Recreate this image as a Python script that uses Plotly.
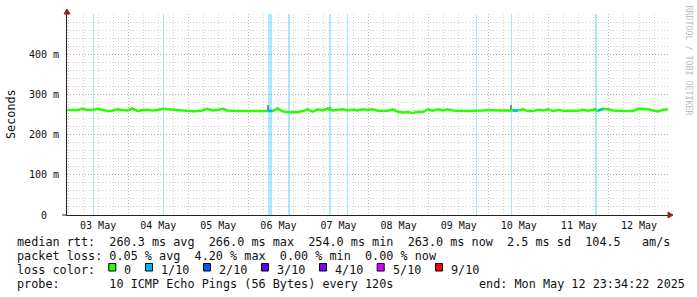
import plotly.graph_objects as go
import pandas as pd

# ---------------- data ----------------
range_start = "2025-05-02 23:34:22"
range_end = "2025-05-12 23:34:22"
sample_times = pd.date_range("2025-05-02 23:40", periods=121, freq="2h")
median_ms = [
    261, 261, 261, 265, 261, 261, 264, 262, 259, 259.5,
    263, 261, 260, 265, 259, 261, 262, 260, 261, 264,
    263, 262, 260, 259.5, 258.5, 258, 258.5, 260, 264, 260,
    261, 265, 260, 259, 259, 259, 259, 260, 259, 259,
    260, 258.5, 265, 258, 255.5, 256, 255.5, 258.5, 263, 257,
    263, 260, 265, 260, 261, 263, 260, 262, 260, 263,
    261, 263, 259.5, 259.5, 259.5, 263, 257, 255, 256, 254,
    257, 256, 263, 259.5, 263, 260, 263, 260, 258.5, 258.5,
    258.5, 258.5, 260, 260, 261, 260, 260, 260, 260, 260,
    260, 263, 258.5, 258.5, 262, 260, 263, 258.5, 261, 259.5,
    259.5, 259.5, 259.5, 262, 259.5, 262, 259.5, 264, 263, 260,
    258.5, 258.5, 258.5, 258.5, 264, 264, 263, 260, 257.5, 262,
    263,
]
loss_runs = [(40, 41), (89, 90), (106, 107)]  # sample index runs with 1/10 loss

loss_start = ["2025-05-03 10:00", "2025-05-04 14:00", "2025-05-06 07:45",
              "2025-05-06 15:50", "2025-05-07 08:05", "2025-05-07 15:20",
              "2025-05-09 18:50", "2025-05-10 08:50", "2025-05-11 18:15"]
loss_minutes = [24, 24, 100, 48, 48, 24, 24, 24, 60]

smoke_times = ["2025-05-06 07:50", "2025-05-07 08:40", "2025-05-10 08:58", "2025-05-11 18:34"]
smoke_low_ms = [258, 259, 259, 258]
smoke_high_ms = [273.5, 269.5, 273.5, 265.5]

y_tickvals = [0, 100, 200, 300, 400]
y_ticktext = ["0\u00a0\u00a0", "100 m", "200 m", "300 m", "400 m"]

rtt_stats = [260.3, 266.0, 254.0, 263.0]   # avg, max, min, now
rtt_sd = 2.5
rtt_ams = 104.5
loss_stats = [0.05, 4.20, 0.00, 0.00]      # avg, max, min, now
loss_labels = ["0", "1/10", "2/10", "3/10", "4/10", "5/10", "9/10"]
loss_colors = ["#26ff00", "#00b8ff", "#0059ff", "#5e00ff", "#7e00ff", "#dd00ff", "#ff0000"]
probe_text = "10 ICMP Echo Pings (56 Bytes) every 120s"
end_text = "end: Mon May 12 23:34:22 2025"

# ---------------- layout helpers ----------------
W, H = 697, 297
L, R, T, B = 67, 29, 14, 82
PW, PH = W - L - R, H - T - B
MONO = "DejaVu Sans Mono"
TXT = "#111111"


def px(x):
    return (x - L) / PW


def py(y):
    return (H - B - y) / PH


def nb(s):
    return s.replace(" ", "\u00a0")


fig = go.Figure()

# loss background bars
starts = pd.to_datetime(loss_start)
widths = [m * 60000 for m in loss_minutes]
centers = [s + pd.Timedelta(minutes=m / 2) for s, m in zip(starts, loss_minutes)]
fig.add_trace(go.Bar(
    x=centers, y=[500] * len(centers), base=0, width=widths,
    marker=dict(color="rgba(0,184,255,0.33)", line=dict(width=0)),
    hoverinfo="skip"))

# smoke spikes
fig.add_trace(go.Bar(
    x=pd.to_datetime(smoke_times),
    y=[h - l for h, l in zip(smoke_high_ms, smoke_low_ms)],
    base=smoke_low_ms, width=[18 * 60000] * len(smoke_times),
    marker=dict(color="#8a8a8a", line=dict(width=0)), hoverinfo="skip"))

# median line
fig.add_trace(go.Scatter(
    x=sample_times, y=median_ms, mode="lines",
    line=dict(color="#26ff00", width=2.5), hoverinfo="skip"))

# loss-coloured median segments
for a, b in loss_runs:
    fig.add_trace(go.Scatter(
        x=sample_times[a:b + 1], y=median_ms[a:b + 1], mode="lines",
        line=dict(color="#00b8ff", width=2.5), hoverinfo="skip"))

grid_major = "rgba(205,95,95,0.5)"
grid_minor = "rgba(150,150,150,0.45)"

fig.update_layout(
    width=W, height=H, margin=dict(l=L, r=R, t=T, b=B),
    paper_bgcolor="white", plot_bgcolor="white",
    showlegend=False, barmode="overlay", bargap=0,
    font=dict(family=MONO, color=TXT),
    xaxis=dict(
        type="date", range=[range_start, range_end],
        tickmode="linear", tick0="2025-05-03", dtick=86400000,
        ticklabelmode="period", tickformat="%d %b",
        showgrid=True, gridcolor=grid_major, griddash="1px,2px", gridwidth=1,
        minor=dict(dtick=21600000, tick0="2025-05-03", showgrid=True,
                   gridcolor=grid_minor, griddash="1px,2px", gridwidth=1),
        showline=True, linecolor="#222222", linewidth=1, ticks="",
        tickfont=dict(family=MONO, size=10, color=TXT), zeroline=False,
        ticklabelstandoff=1,
    ),
    yaxis=dict(
        range=[0, 500], tickmode="array", tickvals=y_tickvals, ticktext=y_ticktext,
        showgrid=True, gridcolor=grid_major, griddash="1px,2px", gridwidth=1,
        minor=dict(dtick=20, tick0=0, showgrid=True,
                   gridcolor=grid_minor, griddash="1px,2px", gridwidth=1),
        showline=True, linecolor="#222222", linewidth=1, ticks="",
        tickfont=dict(family=MONO, size=10, color=TXT), zeroline=False,
        ticklabelstandoff=5,
    ),
)

ann = []
ann.append(dict(text="Seconds", x=px(11), y=py(114), xref="paper", yref="paper",
                textangle=-90, showarrow=False, xanchor="center", yanchor="middle",
                font=dict(family=MONO, size=11.8, color=TXT)))
ann.append(dict(text=nb("RRDTOOL / TOBI OETIKER"), x=px(688.5), y=py(60),
                xref="paper", yref="paper", textangle=90, showarrow=False,
                xanchor="center", yanchor="middle",
                font=dict(family=MONO, size=8.3, color="#bdbdbd")))

line1 = ("median rtt:  %.1f ms avg  %.1f ms max  %.1f ms min  %.1f ms now  %.1f ms sd  %.1f   am/s"
         % (rtt_stats[0], rtt_stats[1], rtt_stats[2], rtt_stats[3], rtt_sd, rtt_ams))
line2 = ("packet loss: %.2f %% avg  %.2f %% max  %.2f %% min  %.2f %% now"
         % tuple(loss_stats))
line4 = "probe:       " + probe_text

LEG_X = 16
for text, yc in [(line1, 241.5), (line2, 255.5), ("loss color:", 269.5), (line4, 283.5)]:
    ann.append(dict(text=nb(text), x=px(LEG_X), y=py(yc), xref="paper", yref="paper",
                    showarrow=False, xanchor="left", yanchor="middle", borderpad=0,
                    font=dict(family=MONO, size=11.8, color=TXT)))
ann.append(dict(text=nb(end_text), x=px(478), y=py(283.5), xref="paper", yref="paper",
                showarrow=False, xanchor="left", yanchor="middle", borderpad=0,
                font=dict(family=MONO, size=11.8, color=TXT)))

label_px = [123.3, 160, 218, 276, 334, 391.7, 450]
shapes = []
for lab, col, lx in zip(loss_labels, loss_colors, label_px):
    ann.append(dict(text=lab, x=px(lx), y=py(269.5), xref="paper", yref="paper",
                    showarrow=False, xanchor="left", yanchor="middle", borderpad=0,
                    font=dict(family=MONO, size=11.8, color=TXT)))
    bx = lx - 15
    shapes.append(dict(type="rect", xref="paper", yref="paper",
                       x0=px(bx + 0.5), x1=px(bx + 7.5), y0=py(271), y1=py(263.5),
                       fillcolor=col, line=dict(color="#000000", width=1), layer="above"))

# x axis extension to the left and axis arrows
shapes.append(dict(type="line", xref="paper", yref="paper", x0=px(62), x1=px(67),
                   y0=0, y1=0, line=dict(color="#222222", width=1)))
shapes.append(dict(type="path", xref="paper", yref="paper", xsizemode="pixel", ysizemode="pixel",
                   xanchor=0, yanchor=1, path="M -3,0 L 3,0 L 0,5 Z",
                   fillcolor="#a02020", line=dict(color="#a02020", width=1)))
shapes.append(dict(type="path", xref="paper", yref="paper", xsizemode="pixel", ysizemode="pixel",
                   xanchor=1, yanchor=0, path="M 0,-3 L 0,3 L 5,0 Z",
                   fillcolor="#a02020", line=dict(color="#a02020", width=1)))

fig.update_layout(annotations=ann, shapes=shapes)
fig.write_html("out.html")
